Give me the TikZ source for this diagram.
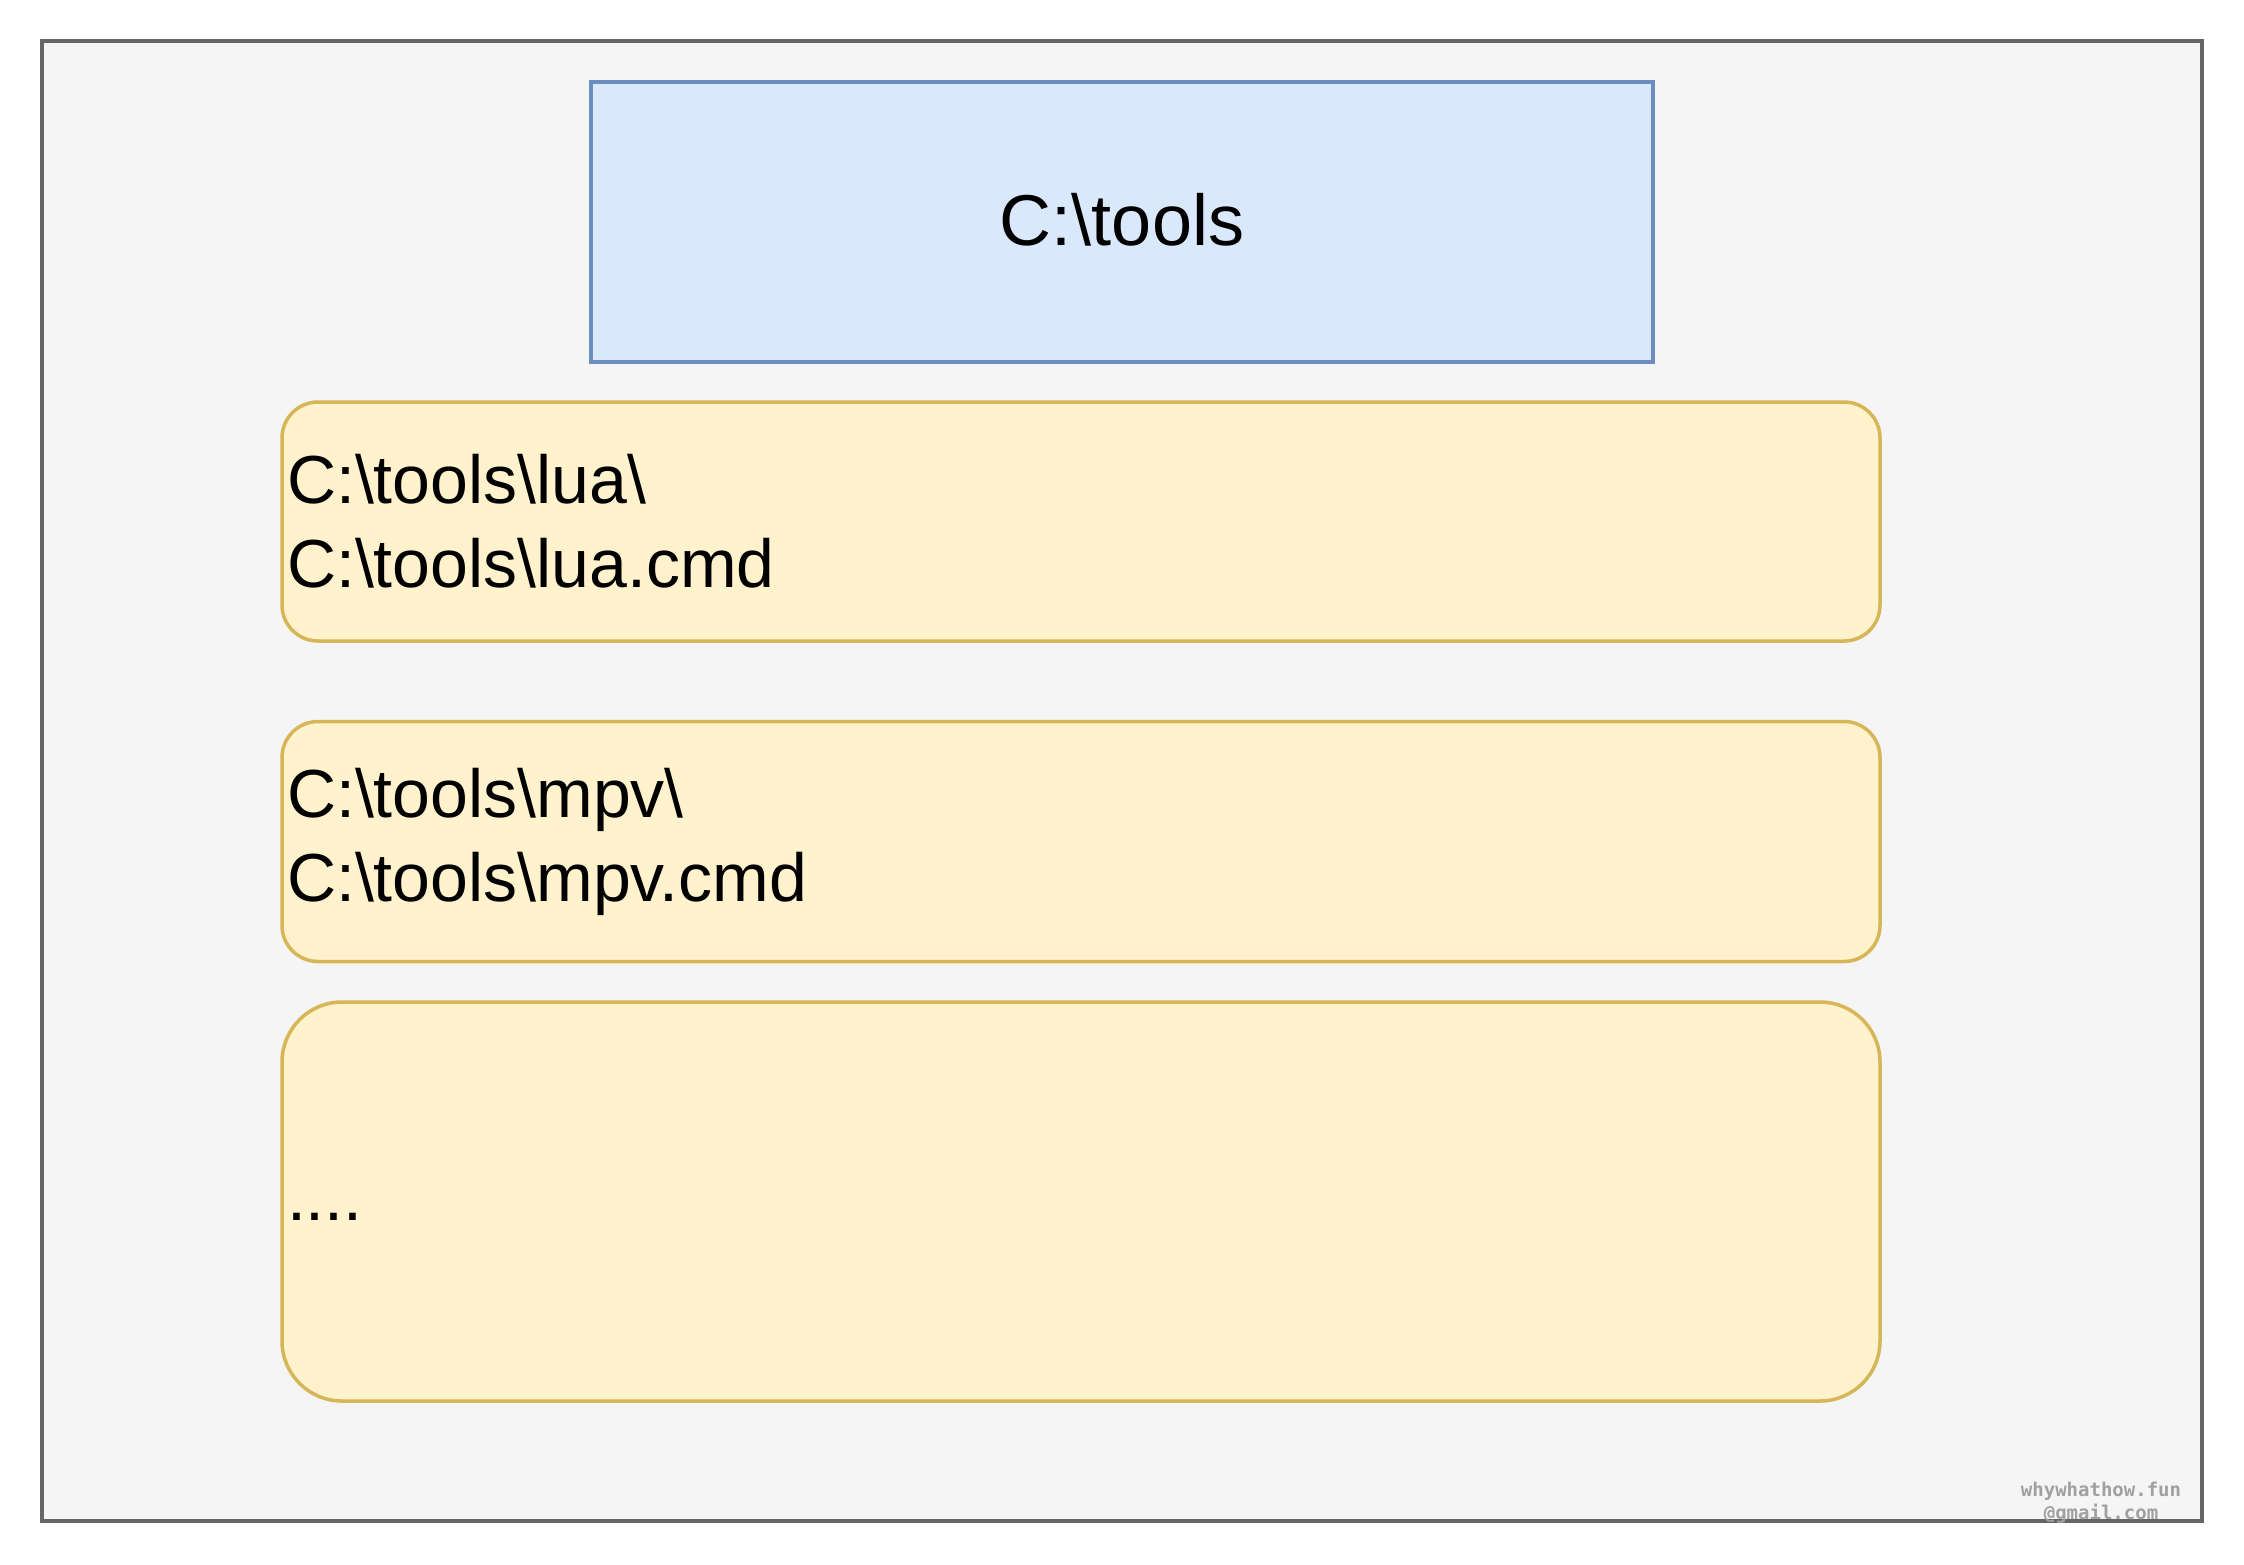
\documentclass[tikz,border=0pt]{standalone}
\usepackage{fontspec}
\setmainfont{Liberation Sans}
\newfontfamily\markfont{DejaVu Sans Mono}
\usepackage{tikz}

\definecolor{framegray}{HTML}{666666}
\definecolor{framefill}{HTML}{F5F5F5}
\definecolor{bluefill}{HTML}{DAE8FC}
\definecolor{bluedraw}{HTML}{6C8EBF}
\definecolor{yellowfill}{HTML}{FFF2CC}
\definecolor{yellowdraw}{HTML}{D6B656}
\definecolor{markgray}{HTML}{A0A0A0}

\begin{document}
\begin{tikzpicture}[x=1pt, y=-1pt,
  every node/.style={inner sep=0pt, font=\fontsize{68}{84}\selectfont},
  rootbox/.style={rectangle, draw=bluedraw, fill=bluefill, line width=3.5pt, minimum width=1062pt, minimum height=280pt,
    font=\fontsize{72}{86}\selectfont},
  dirbox/.style={rectangle, rounded corners=36pt, draw=yellowdraw, fill=yellowfill, line width=3.5pt,
    minimum width=1598pt, text width=1588pt, inner xsep=5pt, align=left}]
  \useasboundingbox (0,0) rectangle (2244,1564);
  \node (frame) [draw=framegray, fill=framefill, line width=4.5pt, minimum width=2160pt, minimum height=1480pt] at (1122,781) {};

  \node (root) [rootbox] at (1122,222) {\raisebox{6pt}{C:\textbackslash tools}};
  \node (lua) [dirbox, minimum height=239pt] at (1081,521.5) {C:\textbackslash tools\textbackslash lua\textbackslash\\C:\textbackslash tools\textbackslash lua.cmd};
  \node (mpv) [dirbox, minimum height=240pt] at (1081,841.5) {C:\textbackslash tools\textbackslash mpv\textbackslash\\C:\textbackslash tools\textbackslash mpv.cmd};
  \node (more) [dirbox, rounded corners=60pt, minimum height=399pt] at (1081,1201.5) {\raisebox{-38pt}{....}};

  % watermark
  \node (mark) [text=markgray, align=center, font=\markfont\bfseries\fontsize{19}{23}\selectfont] at (2101,1503) {whywhathow.fun\\@gmail.com};
\end{tikzpicture}
\end{document}
